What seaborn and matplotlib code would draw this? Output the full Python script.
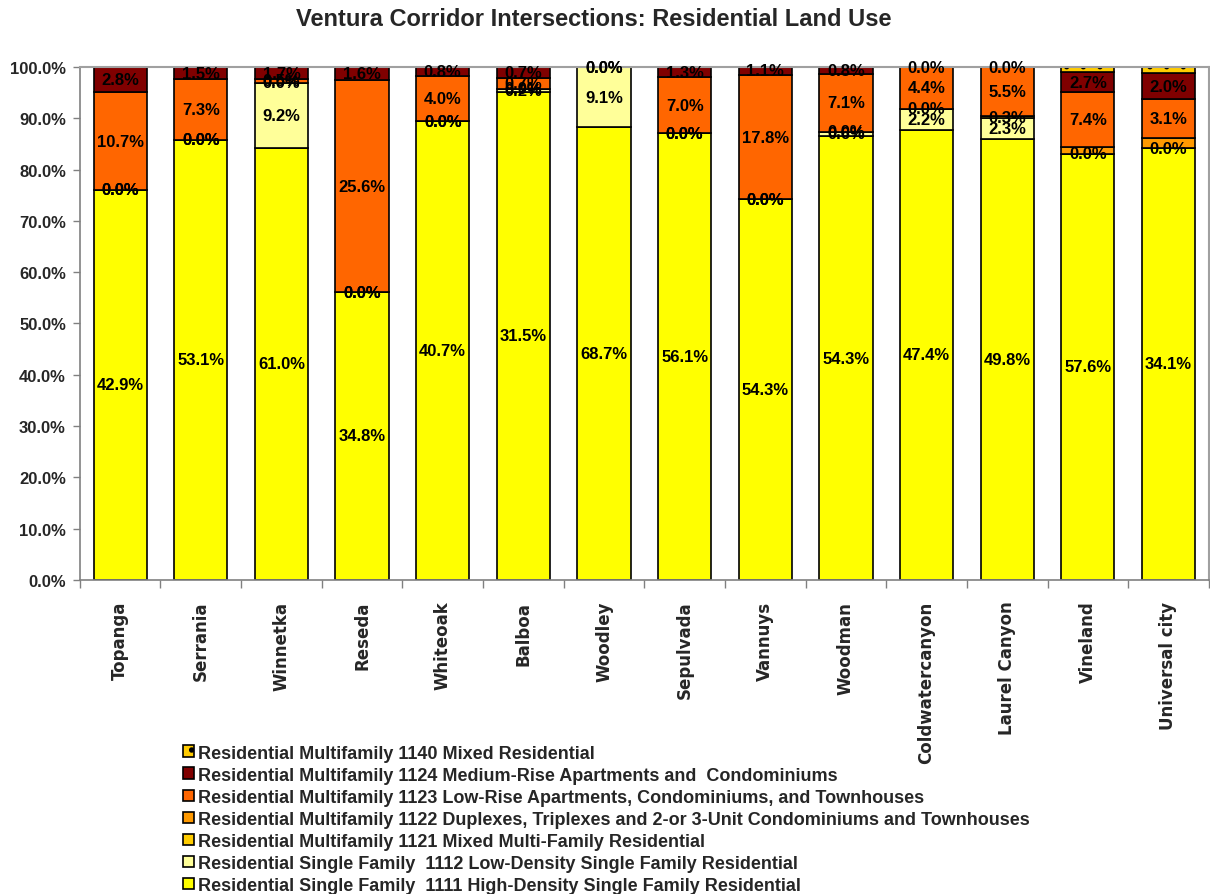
import numpy as np
import pandas as pd
import matplotlib.pyplot as plt
import seaborn as sns
from matplotlib.patches import Patch
from matplotlib.colors import to_hex
from matplotlib.ticker import FuncFormatter

sns.set_theme(style="white")
plt.rcParams['font.family'] = ['Liberation Sans', 'DejaVu Sans']
plt.rcParams['hatch.linewidth'] = 1.5

nan = np.nan

# Intersecciones del corredor (eje x)
intersecciones = ["Topanga", "Serrania", "Winnetka", "Reseda", "Whiteoak", "Balboa",
                  "Woodley", "Sepulvada", "Vannuys", "Woodman", "Coldwatercanyon",
                  "Laurel Canyon", "Vineland", "Universal city"]

# Porcentaje de suelo por tipo de uso residencial (valores de las etiquetas)
uso_1111 = [42.9, 53.1, 61.0, 34.8, 40.7, 31.5, 68.7, 56.1, 54.3, 54.3, 47.4, 49.8, 57.6, 34.1]
uso_1112 = [0.0, 0.0, 9.2, 0.0, 0.0, 0.2, 9.1, 0.0, 0.0, 0.6, 2.2, 2.3, 0.0, 0.0]
uso_1121 = [0.0, 0.0, 0.0, 0.0, 0.0, 0.0, nan, 0.0, 0.0, 0.0, 0.0, 0.3, nan, nan]
uso_1122 = [nan, nan, nan, nan, nan, nan, nan, nan, nan, nan, nan, nan, 0.9, 0.8]
uso_1123 = [10.7, 7.3, 0.5, 25.6, 4.0, 0.7, 0.0, 7.0, 17.8, 7.1, 4.4, 5.5, 7.4, 3.1]
uso_1124 = [2.8, 1.5, 1.7, 1.6, 0.8, 0.7, 0.0, 1.3, 1.1, 0.8, 0.0, 0.0, 2.7, 2.0]
uso_1140 = [nan, nan, nan, nan, nan, nan, nan, nan, nan, nan, nan, nan, 0.7, 0.5]

# orden de arriba hacia abajo (igual que la leyenda)
series = ["1140", "1124", "1123", "1122", "1121", "1112", "1111"]
datos = {"1140": uso_1140, "1124": uso_1124, "1123": uso_1123, "1122": uso_1122,
         "1121": uso_1121, "1112": uso_1112, "1111": uso_1111}
nombres = {
    "1140": "Residential Multifamily 1140 Mixed Residential",
    "1124": "Residential Multifamily 1124 Medium-Rise Apartments and  Condominiums",
    "1123": "Residential Multifamily 1123 Low-Rise Apartments, Condominiums, and Townhouses",
    "1122": "Residential Multifamily 1122 Duplexes, Triplexes and 2-or 3-Unit Condominiums and Townhouses",
    "1121": "Residential Multifamily 1121 Mixed Multi-Family Residential",
    "1112": "Residential Single Family  1112 Low-Density Single Family Residential",
    "1111": "Residential Single Family  1111 High-Density Single Family Residential",
}
colores = {"1140": "#ffcb01", "1124": "#800000", "1123": "#ff6600", "1122": "#ff9900",
           "1121": "#ffcc00", "1112": "#ffff99", "1111": "#ffff00"}
sin_etiqueta = ["1140", "1122"]

filas = []
for s in series:
    for nombre, v in zip(intersecciones, datos[s]):
        if not np.isnan(v):
            filas.append({"interseccion": nombre, "serie": s, "valor": v})
df = pd.DataFrame(filas)
df["interseccion"] = pd.Categorical(df["interseccion"], categories=intersecciones)

fig, ax = plt.subplots(figsize=(12.1, 8.95), dpi=100)
plt.subplots_adjust(left=0.066, right=0.999, top=0.924, bottom=0.351)

sns.histplot(data=df, x="interseccion", hue="serie", weights="valor", multiple="fill",
             discrete=True, shrink=0.66, hue_order=series, palette=colores,
             edgecolor="black", linewidth=1.2, alpha=1, legend=False, ax=ax)

# etiquetas de cada segmento (valor original, no normalizado)
color_a_serie = {to_hex(c): s for s, c in colores.items()}
for p in ax.patches:
    s = color_a_serie.get(to_hex(p.get_facecolor()))
    if s is None:
        continue
    if s == "1140":
        p.set_hatch(".")
    i = int(round(p.get_x() + p.get_width() / 2))
    v = datos[s][i]
    if s in sin_etiqueta or np.isnan(v):
        continue
    ax.text(i, p.get_y() + p.get_height() / 2, f"{v:.1f}%", ha="center", va="center",
            fontsize=12, fontweight="bold", color="black")

ax.set_xlim(-0.5, len(intersecciones) - 0.5)
ax.set_ylim(0, 1)
ax.set_yticks(np.arange(0, 1.01, 0.1))
ax.yaxis.set_major_formatter(FuncFormatter(lambda y, _: f"{y * 100:.1f}%"))
ax.tick_params(axis="y", direction="out", length=5, width=1, color="#808080",
               labelsize=12, pad=5, left=True)
for t in ax.get_yticklabels():
    t.set_fontweight("bold")

ax.set_xticks(np.arange(-0.5, len(intersecciones), 1))
ax.set_xticklabels([])
ax.set_xticks(np.arange(len(intersecciones)), minor=True)
ax.set_xticklabels(intersecciones, minor=True, rotation=90, fontsize=12,
                   fontweight="bold", family=["DejaVu Sans"], va="top")
ax.tick_params(axis="x", which="major", direction="out", length=6, width=1,
               color="#808080", bottom=True)
ax.tick_params(axis="x", which="minor", length=0, pad=15)

ax.set_xlabel("")
ax.set_ylabel("")
for lado in ["left", "bottom"]:
    ax.spines[lado].set_color("#808080")
    ax.spines[lado].set_linewidth(1.2)
for lado in ["top", "right"]:
    ax.spines[lado].set_color("#a0a0a0")
    ax.spines[lado].set_linewidth(1.5)

fig.text(0.491, 1 - 19 / 895, "Ventura Corridor Intersections: Residential Land Use",
         ha="center", va="center", fontsize=17, fontweight="bold")

manijas = [Patch(facecolor=colores[s], edgecolor="black", linewidth=1.2,
                 hatch="." if s == "1140" else None, label=nombres[s]) for s in series]
fig.legend(handles=manijas, loc="upper left", bbox_to_anchor=(0.151, 0.167),
           frameon=False, borderpad=0, borderaxespad=0, labelspacing=0.28,
           handlelength=0.6, handleheight=0.6, handletextpad=0.25,
           prop={"size": 13, "weight": "bold"})

fig.savefig("out.png", dpi=100)
